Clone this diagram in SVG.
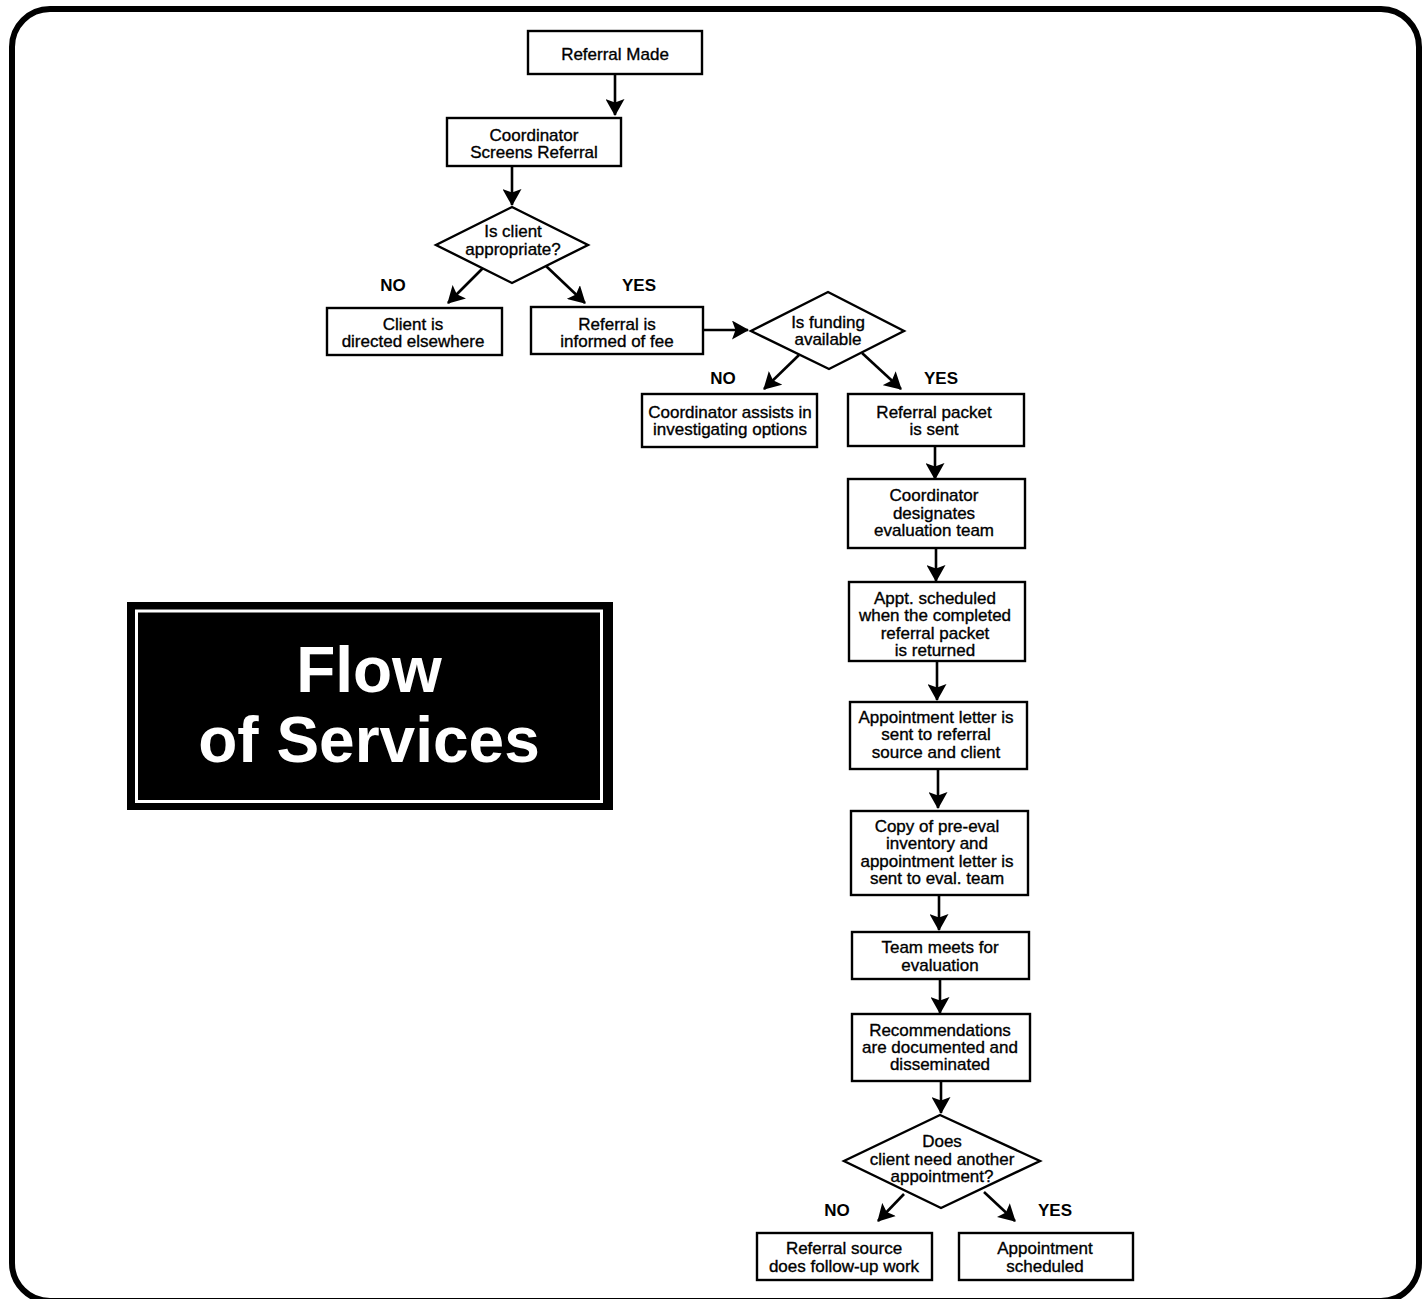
<svg xmlns="http://www.w3.org/2000/svg" width="1423" height="1299" viewBox="0 0 1423 1299">
<style>
.box{fill:#fff;stroke:#000;stroke-width:2.4}
.t{font-family:"Liberation Sans",Arial,Helvetica,sans-serif;font-size:17px;fill:#000;stroke:#000;stroke-width:0.35;text-anchor:middle}
.lbl{font-family:"Liberation Sans",Arial,Helvetica,sans-serif;font-size:17px;font-weight:bold;fill:#000;text-anchor:middle}
.c{stroke:#000;stroke-width:2.6;fill:none;marker-end:url(#ah)}
.title{font-family:"Liberation Sans",Arial,Helvetica,sans-serif;font-size:64px;font-weight:bold;fill:#fff;text-anchor:middle}
</style>
<defs>
<marker id="ah" viewBox="0 0 17 19" refX="16" refY="9.5" markerWidth="17" markerHeight="19" markerUnits="userSpaceOnUse" orient="auto">
<path d="M0,0 L17,9.5 L0,19 L3.5,9.5 z" fill="#000"/>
</marker>
</defs>
<rect width="1423" height="1299" fill="#fff"/>
<rect id="frame" x="12" y="9" width="1407" height="1292" rx="38" fill="none" stroke="#000" stroke-width="6"/>

<g id="title">
<rect x="127" y="602" width="486" height="208" fill="#000"/>
<rect x="136.5" y="611" width="465" height="190.5" fill="none" stroke="#fff" stroke-width="3"/>
<text class="title" x="369" y="692">Flow</text>
<text class="title" x="369" y="762">of Services</text>
</g>

<g id="connectors">
<line class="c" x1="615" y1="74" x2="615" y2="115"/>
<line class="c" x1="512" y1="166" x2="512" y2="205"/>
<line class="c" x1="483" y1="268" x2="448" y2="303"/>
<line class="c" x1="546" y1="266" x2="585" y2="303"/>
<line class="c" x1="703" y1="330" x2="748" y2="330"/>
<line class="c" x1="799" y1="355" x2="764" y2="389"/>
<line class="c" x1="862" y1="353" x2="901" y2="389"/>
<line class="c" x1="935" y1="446" x2="935" y2="479"/>
<line class="c" x1="936" y1="548" x2="936" y2="581"/>
<line class="c" x1="937" y1="661" x2="937" y2="700"/>
<line class="c" x1="938" y1="769" x2="938" y2="808"/>
<line class="c" x1="939" y1="895" x2="939" y2="930"/>
<line class="c" x1="940" y1="979" x2="940" y2="1013"/>
<line class="c" x1="941" y1="1081" x2="941" y2="1113"/>
<line class="c" x1="904" y1="1194" x2="878" y2="1221"/>
<line class="c" x1="984" y1="1192" x2="1015" y2="1221"/>
</g>

<g id="labels">
<text class="lbl" x="393" y="291">NO</text>
<text class="lbl" x="639" y="291">YES</text>
<text class="lbl" x="723" y="384">NO</text>
<text class="lbl" x="941" y="384">YES</text>
<text class="lbl" x="837" y="1216">NO</text>
<text class="lbl" x="1055" y="1216">YES</text>
</g>

<g id="n1"><rect class="box" x="528" y="31" width="174" height="43"/>
<text class="t" x="615" y="60">Referral Made</text></g>

<g id="n2"><rect class="box" x="447" y="118" width="174" height="48"/>
<text class="t" x="534" y="141">Coordinator</text>
<text class="t" x="534" y="158">Screens Referral</text></g>

<g id="d1"><polygon class="box" points="512,207 588,245 512,283 436,245"/>
<text class="t" x="513" y="237">Is client</text>
<text class="t" x="513" y="255">appropriate?</text></g>

<g id="n3"><rect class="box" x="327" y="308" width="175" height="47"/>
<text class="t" x="413" y="330">Client is</text>
<text class="t" x="413" y="347">directed elsewhere</text></g>

<g id="n4"><rect class="box" x="531" y="307" width="172" height="47"/>
<text class="t" x="617" y="330">Referral is</text>
<text class="t" x="617" y="347">informed of fee</text></g>

<g id="d2"><polygon class="box" points="828,292 904,331 829,369 751,331"/>
<text class="t" x="828" y="328">Is funding</text>
<text class="t" x="828" y="345">available</text></g>

<g id="n5"><rect class="box" x="642" y="394" width="175" height="53"/>
<text class="t" x="730" y="418">Coordinator assists in</text>
<text class="t" x="730" y="435">investigating options</text></g>

<g id="n6"><rect class="box" x="848" y="394" width="176" height="52"/>
<text class="t" x="934" y="418">Referral packet</text>
<text class="t" x="934" y="435">is sent</text></g>

<g id="n7"><rect class="box" x="848" y="479" width="177" height="69"/>
<text class="t" x="934" y="501">Coordinator</text>
<text class="t" x="934" y="519">designates</text>
<text class="t" x="934" y="536">evaluation team</text></g>

<g id="n8"><rect class="box" x="849" y="582" width="176" height="79"/>
<text class="t" x="935" y="604">Appt. scheduled</text>
<text class="t" x="935" y="621">when the completed</text>
<text class="t" x="935" y="639">referral packet</text>
<text class="t" x="935" y="656">is returned</text></g>

<g id="n9"><rect class="box" x="850" y="702" width="177" height="67"/>
<text class="t" x="936" y="723">Appointment letter is</text>
<text class="t" x="936" y="740">sent to referral</text>
<text class="t" x="936" y="758">source and client</text></g>

<g id="n10"><rect class="box" x="851" y="811" width="177" height="84"/>
<text class="t" x="937" y="832">Copy of pre-eval</text>
<text class="t" x="937" y="849">inventory and</text>
<text class="t" x="937" y="867">appointment letter is</text>
<text class="t" x="937" y="884">sent to eval. team</text></g>

<g id="n11"><rect class="box" x="852" y="932" width="177" height="47"/>
<text class="t" x="940" y="953">Team meets for</text>
<text class="t" x="940" y="971">evaluation</text></g>

<g id="n12"><rect class="box" x="852" y="1014" width="178" height="67"/>
<text class="t" x="940" y="1036">Recommendations</text>
<text class="t" x="940" y="1053">are documented and</text>
<text class="t" x="940" y="1070">disseminated</text></g>

<g id="d3"><polygon class="box" points="940,1115 1040,1161 941,1208 844,1161"/>
<text class="t" x="942" y="1147">Does</text>
<text class="t" x="942" y="1165">client need another</text>
<text class="t" x="942" y="1182">appointment?</text></g>

<g id="n13"><rect class="box" x="757" y="1233" width="175" height="47"/>
<text class="t" x="844" y="1254">Referral source</text>
<text class="t" x="844" y="1272">does follow-up work</text></g>

<g id="n14"><rect class="box" x="959" y="1233" width="174" height="47"/>
<text class="t" x="1045" y="1254">Appointment</text>
<text class="t" x="1045" y="1272">scheduled</text></g>
</svg>
